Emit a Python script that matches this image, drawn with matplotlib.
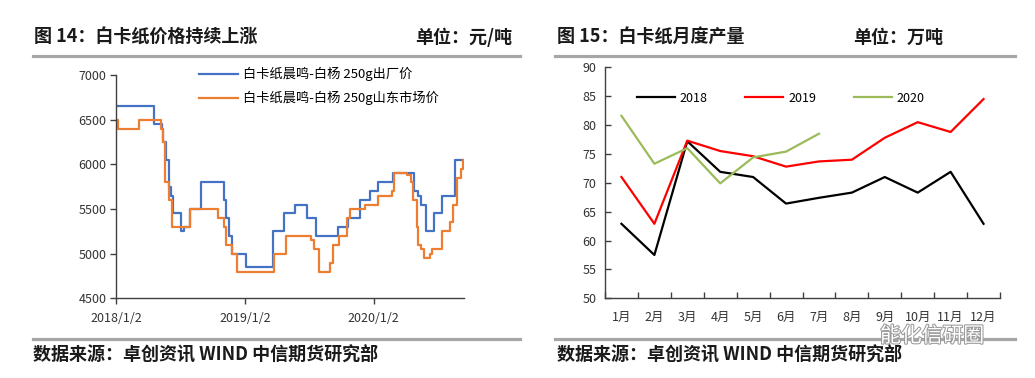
import numpy as np
import pandas as pd
import matplotlib
matplotlib.use("Agg")
import matplotlib.pyplot as plt
import matplotlib.patheffects as pe
from matplotlib.lines import Line2D

plt.rcParams['font.family'] = ['Noto Sans CJK SC', 'DejaVu Sans']
plt.rcParams['axes.unicode_minus'] = False

# ==============================
# Data: chart 14 (step prices, 元/吨)
# ==============================
factory_dates = ['2018-01-02', '2018-04-19', '2018-05-11', '2018-05-15', '2018-05-22',
                 '2018-05-31', '2018-06-06', '2018-06-12', '2018-07-04', '2018-07-13',
                 '2018-07-30', '2018-08-29', '2018-11-03', '2018-11-09', '2018-11-18',
                 '2018-11-27', '2019-01-04', '2019-03-23', '2019-04-23', '2019-05-24',
                 '2019-06-26', '2019-07-21', '2019-09-24', '2019-10-20', '2019-11-24',
                 '2019-12-23', '2020-01-13', '2020-02-27', '2020-04-25', '2020-05-07',
                 '2020-05-15', '2020-05-29', '2020-06-22', '2020-07-15', '2020-08-20',
                 '2020-09-15']
factory_price = [6650, 6450, 6400, 6250, 6050,
                 5750, 5650, 5450, 5250, 5300,
                 5500, 5800, 5600, 5400, 5200,
                 5000, 4850, 5250, 5450, 5550,
                 5400, 5200, 5300, 5400, 5600,
                 5700, 5800, 5900, 5700, 5650,
                 5550, 5250, 5450, 5650, 6050,
                 6050]

market_dates = ['2018-01-02', '2018-01-08', '2018-03-07', '2018-05-08', '2018-05-14',
                '2018-05-20', '2018-05-31', '2018-06-09', '2018-07-30', '2018-10-18',
                '2018-11-03', '2018-11-09', '2018-11-27', '2018-12-09', '2019-03-25',
                '2019-04-28', '2019-07-08', '2019-07-17', '2019-08-01', '2019-08-31',
                '2019-09-09', '2019-09-25', '2019-10-18', '2019-10-28', '2019-12-08',
                '2020-01-13', '2020-02-22', '2020-03-01', '2020-04-05', '2020-04-17',
                '2020-04-23', '2020-05-04', '2020-05-08', '2020-05-15', '2020-05-24',
                '2020-06-09', '2020-06-14', '2020-07-13', '2020-08-05', '2020-08-14',
                '2020-08-24', '2020-09-05', '2020-09-12', '2020-09-15']
market_price = [6500, 6400, 6500, 6400, 6250,
                5800, 5600, 5300, 5500, 5400,
                5300, 5100, 5000, 4800, 5000,
                5200, 5150, 5050, 4800, 4900,
                5100, 5200, 5400, 5500, 5550,
                5650, 5700, 5900, 5880, 5800,
                5600, 5300, 5100, 5050, 4950,
                5000, 5050, 5250, 5350, 5550,
                5850, 5950, 6050, 6050]

label_factory = '白卡纸晨鸣-白杨 250g出厂价'
label_market = '白卡纸晨鸣-白杨 250g山东市场价'
date_ticks = ['2018-01-02', '2019-01-02', '2020-01-02']
date_tick_labels = ['2018/1/2', '2019/1/2', '2020/1/2']

# ==============================
# Data: chart 15 (monthly output, 万吨)
# ==============================
months = ['1月', '2月', '3月', '4月', '5月', '6月', '7月', '8月', '9月', '10月', '11月', '12月']
output_2018 = [62.9, 57.5, 77.2, 71.9, 71.0, 66.4, 67.4, 68.3, 71.0, 68.3, 71.9, 62.9]
output_2019 = [71.0, 62.9, 77.3, 75.5, 74.6, 72.8, 73.7, 74.0, 77.8, 80.5, 78.8, 84.5]
output_2020 = [81.6, 73.3, 76.0, 69.9, 74.4, 75.4, 78.5]

# ==============================
# Figure
# ==============================
fig = plt.figure(figsize=(10.35, 3.78), dpi=100)
W, H = 1035, 378


def fx(px):
    return px / W


def fy(py):
    return 1 - py / H


grey = '#A6A6A6'
title_kw = dict(fontsize=13, fontweight='bold', color='#1a1a1a', va='center')

# headers / footers
fig.text(fx(34), fy(37), '图 14：白卡纸价格持续上涨', ha='left', **title_kw)
fig.text(fx(512), fy(37), '单位：元/吨', ha='right', **title_kw)
fig.text(fx(557), fy(37), '图 15：白卡纸月度产量', ha='left', **title_kw)
fig.text(fx(943), fy(37), '单位：万吨', ha='right', **title_kw)
fig.text(fx(33), fy(354), '数据来源：卓创资讯 WIND 中信期货研究部', ha='left', **title_kw)
fig.text(fx(557), fy(354), '数据来源：卓创资讯 WIND 中信期货研究部', ha='left', **title_kw)

for x0, x1 in [(33, 520), (555, 1015)]:
    for yy in (55.5, 339.3):
        fig.add_artist(Line2D([fx(x0), fx(x1)], [fy(yy), fy(yy)],
                              color=grey, lw=2.3, transform=fig.transFigure))

# ==============================
# Left chart
# ==============================
ax1 = fig.add_axes([fx(116.3), fy(298.3), fx(464.3 - 116.3), (298.3 - 75) / H])

ax1.plot(pd.to_datetime(factory_dates), factory_price, drawstyle='steps-post',
         color='#4472C4', lw=1.6, label=label_factory)
ax1.plot(pd.to_datetime(market_dates), market_price, drawstyle='steps-post',
         color='#ED7D31', lw=1.6, label=label_market)

ax1.set_xlim(pd.Timestamp('2018-01-02'), pd.Timestamp('2020-09-15'))
ax1.set_ylim(4500, 7000)
ax1.set_yticks(np.arange(4500, 7001, 500))
ax1.set_xticks(pd.to_datetime(date_ticks))
ax1.set_xticklabels(date_tick_labels)
for s in ['top', 'right']:
    ax1.spines[s].set_visible(False)
for s in ['left', 'bottom']:
    ax1.spines[s].set_color('#404040')
    ax1.spines[s].set_linewidth(1.0)
ax1.tick_params(axis='both', direction='out', length=4, width=1.0, color='#404040',
                labelsize=9, labelcolor='#333333', pad=3)
ax1.tick_params(axis='x', pad=6)

ax1.legend(loc='upper left', bbox_to_anchor=(0.2385, 1.035), frameon=False,
           fontsize=9.5, handlelength=2.9, handletextpad=0.4, labelspacing=0.75,
           borderpad=0, borderaxespad=0)

# ==============================
# Right chart
# ==============================
ax2 = fig.add_axes([fx(605), fy(298.3), fx(1000 - 605), (298.3 - 67.3) / H])
xi = np.arange(len(months))
ax2.plot(xi, output_2018, color='black', lw=1.6, label='2018')
ax2.plot(xi, output_2019, color='#FF0000', lw=1.6, label='2019')
ax2.plot(xi[:len(output_2020)], output_2020, color='#9BBB59', lw=1.6, label='2020')

ax2.set_xlim(-0.5, 11.5)
ax2.set_ylim(50, 90)
ax2.set_yticks(np.arange(50, 91, 5))
ax2.set_xticks(xi)
ax2.set_xticklabels(months)
ax2.set_xticks(np.arange(-0.5, 12, 1), minor=True)
for s in ['top', 'right']:
    ax2.spines[s].set_visible(False)
for s in ['left', 'bottom']:
    ax2.spines[s].set_color('#404040')
    ax2.spines[s].set_linewidth(1.0)
ax2.tick_params(axis='x', which='major', length=0, labelsize=9, labelcolor='#333333', pad=9)
ax2.tick_params(axis='x', which='minor', direction='in', length=4, width=1.0, color='#404040')
ax2.tick_params(axis='y', direction='in', length=4, width=1.0, color='#404040',
                labelsize=9, labelcolor='#333333', pad=6)

ax2.legend(loc='center left', bbox_to_anchor=(0.080, 0.867), frameon=False, ncol=3,
           fontsize=9, handlelength=3.05, handletextpad=0.4, columnspacing=3.0,
           borderpad=0, borderaxespad=0)

# watermark (kept just below the month labels)
fig.text(fx(880), fy(336), '能化信研圈', ha='left', va='center', fontsize=15,
         color='white', path_effects=[pe.withStroke(linewidth=1.5, foreground='#9a9a9a')])

fig.savefig('out.png', dpi=100)
